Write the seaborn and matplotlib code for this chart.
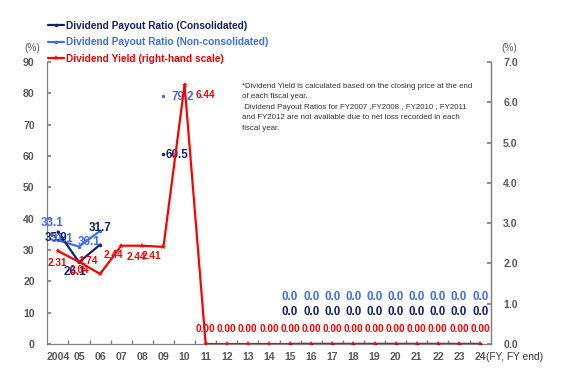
import numpy as np
import pandas as pd
import matplotlib
matplotlib.use("Agg")
import matplotlib.pyplot as plt
from matplotlib.lines import Line2D
import seaborn as sns

nan = np.nan

# fiscal years and tick labels
years = list(range(2004, 2025))
tick_labels = ["2004"] + [f"{y % 100:02d}" for y in years[1:]]

# payout ratios (%), left axis -- n/a years left as NaN
payout_cons = [35.9, 26.1, 31.7, nan, nan, 60.5, nan, nan, nan, nan, nan,
               0.0, 0.0, 0.0, 0.0, 0.0, 0.0, 0.0, 0.0, 0.0, 0.0]
payout_noncons = [33.1, 31.1, 36.1, nan, nan, 79.2, nan, nan, nan, nan, nan,
                  0.0, 0.0, 0.0, 0.0, 0.0, 0.0, 0.0, 0.0, 0.0, 0.0]
# dividend yield (%), right axis
div_yield = [2.31, 2.04, 1.74, 2.44, 2.44, 2.41, 6.44,
             0.00, 0.00, 0.00, 0.00, 0.00, 0.00, 0.00,
             0.00, 0.00, 0.00, 0.00, 0.00, 0.00, 0.00]

NAVY = "#13206a"
BLUE = "#3d6ef0"
RED = "#ff0000"
GREY = "#595959"


def segments(values):
    """long frame with a segment id so gaps (NaN) break the line"""
    df = pd.DataFrame({"x": np.arange(len(values)), "v": values})
    df["seg"] = df["v"].isna().cumsum()
    return df.dropna()


sns.set_theme(style="white")
plt.rcParams["font.family"] = ["Liberation Sans", "DejaVu Sans"]

fig = plt.figure(figsize=(5.67, 3.87), dpi=100)
W, H = 567, 387
ax = fig.add_axes([47.3 / W, 1 - 344 / H, 443.4 / W, 282 / H])
ax2 = ax.twinx()

sns.lineplot(data=segments(payout_noncons), x="x", y="v", units="seg", estimator=None,
             color=BLUE, lw=1.6, marker="o", ms=2.5, mew=0, ax=ax, zorder=3)
sns.lineplot(data=segments(payout_cons), x="x", y="v", units="seg", estimator=None,
             color=NAVY, lw=1.6, marker="o", ms=2.5, mew=0, ax=ax, zorder=4)
sns.lineplot(data=segments(div_yield), x="x", y="v", units="seg", estimator=None,
             color=RED, lw=1.6, marker="*", ms=4, mew=0, ax=ax2, zorder=5)

# axes limits / ticks
ax.set_xlim(-0.5, 20.5)
ax.set_ylim(0, 90)
ax2.set_ylim(0, 7)
ax.set_yticks(range(0, 91, 10))
ax2.set_yticks(np.arange(0, 7.1, 1.0))
ax2.set_yticklabels([f"{t:.1f}" for t in np.arange(0, 7.1, 1.0)])
ax.set_xticks(range(21))
ax.set_xticklabels(tick_labels)
ax.set_xticks(np.arange(0.5, 20, 1), minor=True)
ax.tick_params(axis="x", which="major", length=0, pad=6)
ax.tick_params(axis="x", which="minor", direction="in", length=3, color="#808080", bottom=True)
ax.tick_params(axis="y", direction="in", length=3, color="#808080", pad=9, left=True)
ax2.tick_params(axis="y", direction="in", length=3, color="#808080", pad=9, right=True)
for a in (ax, ax2):
    a.set_xlabel("")
    a.set_ylabel("")
    a.grid(False)
    for lab in a.get_xticklabels() + a.get_yticklabels():
        lab.set_fontsize(7.6)
        lab.set_fontweight("bold")
        lab.set_color(GREY)
    for s in a.spines.values():
        s.set_color("#808080")
        s.set_linewidth(0.9)
    a.spines["top"].set_visible(False)
ax2.spines["left"].set_visible(False)
ax2.spines["bottom"].set_visible(False)

fig.text(32.7 / W, 1 - 48 / H, "(%)", ha="center", va="center", fontsize=7.3, color=GREY)
fig.text(509 / W, 1 - 48 / H, "(%)", ha="center", va="center", fontsize=7.3, color=GREY)
fig.text(486 / W, 1 - 357.5 / H, "(FY, FY end)", ha="left", va="center", fontsize=7.3, color="#333333")


def label(a, x, y, s, color, dx, dy, size):
    a.annotate(s, (x, y), xytext=(dx, -dy), textcoords="offset pixels",
               ha="center", va="center", fontsize=size, fontweight="bold",
               color=color, zorder=10)


# data labels, early years placed by hand (pixel offsets)
red_off = [(-1, 12), (0, 8), (-12, -13), (-8, 9), (-6, 11), (-12, 9), (21, 10)]
for i, v in enumerate(div_yield):
    dx, dy = red_off[i] if i < len(red_off) else (0, -15)
    label(ax2, i, v, f"{v:.2f}", RED, dx, dy, 7.2)

cons_off = {0: (-2, 6), 1: (-4, 10), 2: (0, -17), 5: (14, 1)}
non_off = {0: (-6, -17), 1: (-17, -8), 2: (-11, 11), 5: (19, 1)}
for i, v in enumerate(payout_cons):
    if np.isnan(v):
        continue
    dx, dy = cons_off.get(i, (0, -32))
    label(ax, i, v, f"{v:.1f}", NAVY, dx, dy, 8.4)
for i, v in enumerate(payout_noncons):
    if np.isnan(v):
        continue
    dx, dy = non_off.get(i, (0, -47))
    label(ax, i, v, f"{v:.1f}", BLUE, dx, dy, 8.4)

note = ("*Dividend Yield is calculated based on the closing price at the end\n"
        "of each fiscal year.\n"
        " Dividend Payout Ratios for FY2007 ,FY2008 , FY2010 , FY2011\n"
        "and FY2012 are not available due to net loss recorded in each\n"
        "fiscal year.")
fig.text(242 / W, 1 - 83 / H, note, ha="left", va="top", fontsize=5.7,
         linespacing=1.68, color="#333333")

handles = [
    Line2D([], [], color=NAVY, lw=1.6, marker="o", ms=2.5, mew=0),
    Line2D([], [], color=BLUE, lw=1.6, marker="o", ms=2.5, mew=0),
    Line2D([], [], color=RED, lw=1.6, marker="*", ms=4, mew=0),
]
names = ["Dividend Payout Ratio (Consolidated)",
         "Dividend Payout Ratio (Non-consolidated)",
         "Dividend Yield (right-hand scale)"]
leg = fig.legend(handles, names, loc="upper left", bbox_to_anchor=(48 / W, 1 - 21 / H),
                 frameon=False, prop={"size": 7.3, "weight": "bold"},
                 handlelength=1.6, handletextpad=0.15, labelspacing=0.62,
                 borderpad=0, borderaxespad=0)
for t, c in zip(leg.get_texts(), [NAVY, BLUE, RED]):
    t.set_color(c)

fig.savefig("out.png", dpi=100)
